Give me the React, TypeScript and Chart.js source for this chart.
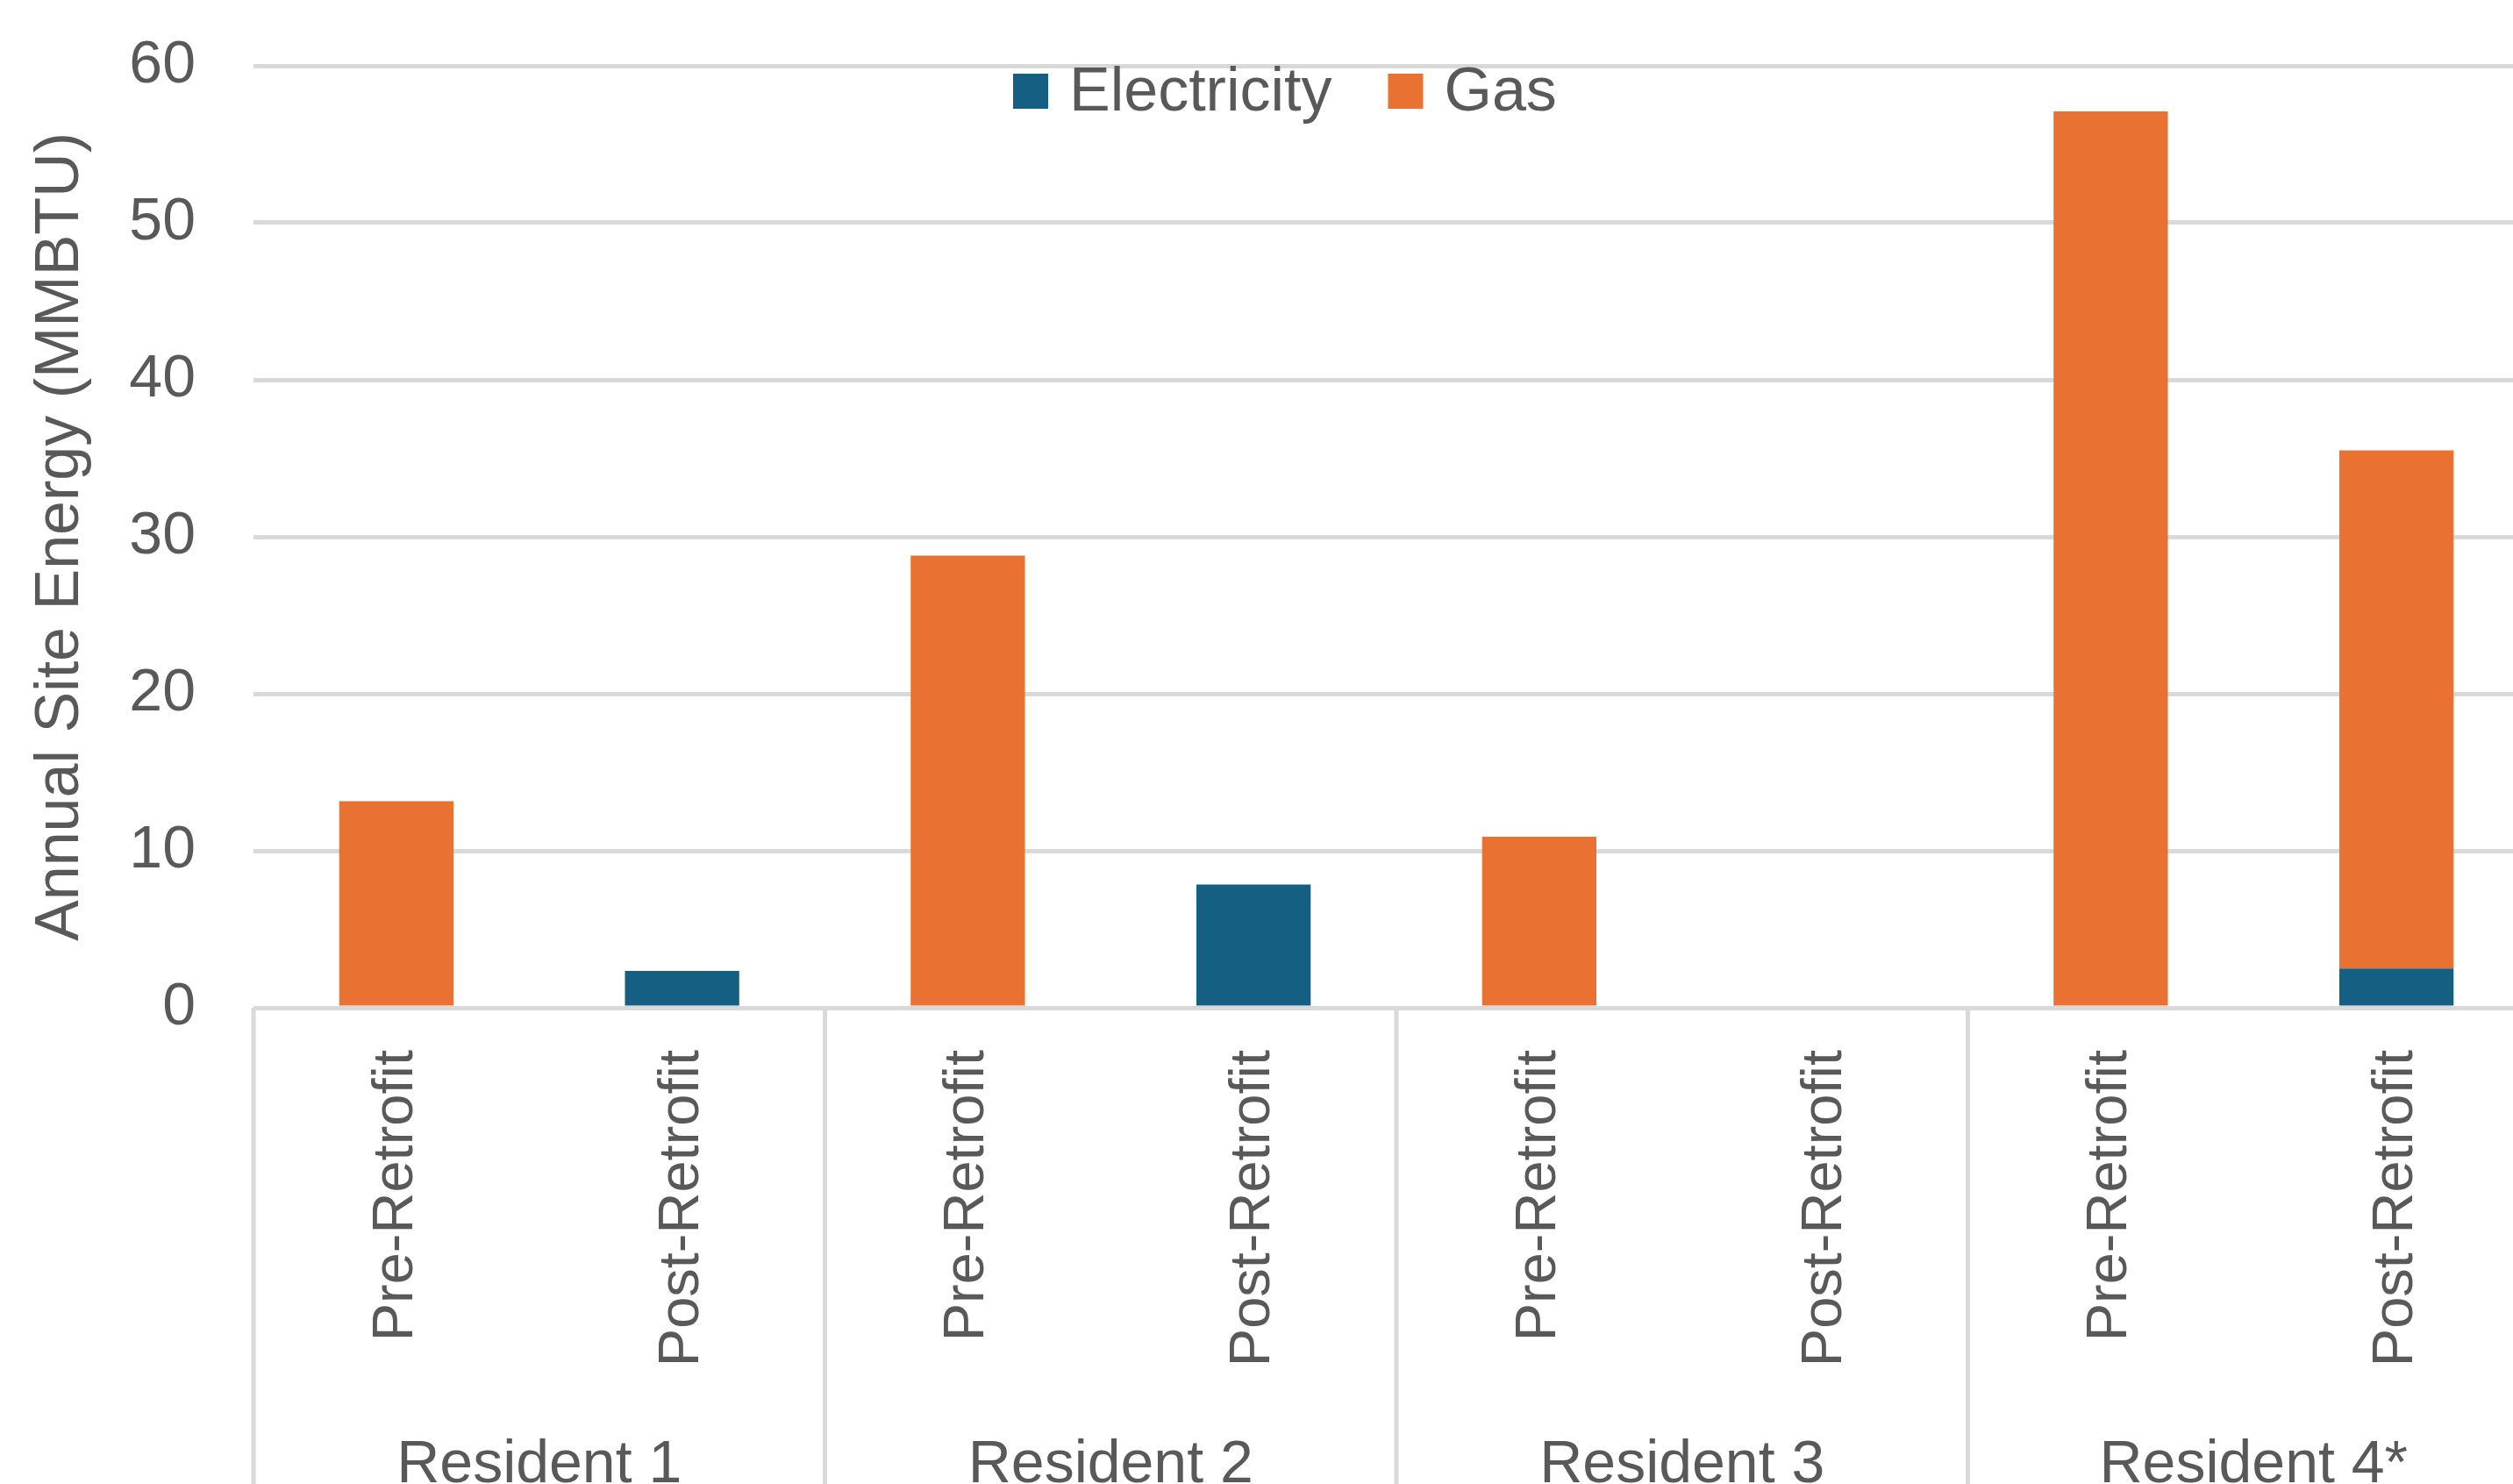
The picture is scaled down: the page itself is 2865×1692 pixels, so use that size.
import React, { useEffect, useRef } from "react";
import { Chart, registerables } from "chart.js";

Chart.register(...registerables);

const categories = [
  "Pre-Retrofit", "Post-Retrofit",
  "Pre-Retrofit", "Post-Retrofit",
  "Pre-Retrofit", "Post-Retrofit",
  "Pre-Retrofit", "Post-Retrofit",
];
const groups = ["Resident 1", "Resident 2", "Resident 3", "Resident 4*"];
const electricity = [0, 2.35, 0, 7.85, 0, 0, 0, 2.5];
const gas = [13.15, 0, 28.8, 0, 10.9, 0, 57.1, 33.0];
const seriesNames = ["Electricity", "Gas"];
const seriesColors = ["#156082", "#E97132"];
const yMin = 0;
const yMax = 60;
const yStep = 10;
const yTitle = "Annual Site Energy (MMBTU)";

const CANVAS_W = 2895;
const CANVAS_H = 1692;
const TEXT = "#595959";
const GRID = "#d9d9d9";
const FONT = "'Liberation Sans', Arial, sans-serif";

const groupPlugin = {
  id: "groupAxis",
  afterDraw(chart: any) {
    const { ctx } = chart;
    const xs = chart.scales.x;
    const ys = chart.scales.y;
    const y0 = ys.getPixelForValue(0);
    const step = xs.getPixelForValue(1) - xs.getPixelForValue(0);
    ctx.save();
    ctx.strokeStyle = GRID;
    ctx.lineWidth = 5;
    groups.forEach((g, gi) => {
      const first = gi * 2;
      const bx = xs.getPixelForValue(first) - step / 2;
      ctx.beginPath();
      ctx.moveTo(bx, y0);
      ctx.lineTo(bx, CANVAS_H);
      ctx.stroke();
    });
    ctx.fillStyle = TEXT;
    ctx.font = `68px ${FONT}`;
    ctx.textAlign = "center";
    ctx.textBaseline = "alphabetic";
    groups.forEach((g, gi) => {
      const cx = (xs.getPixelForValue(gi * 2) + xs.getPixelForValue(gi * 2 + 1)) / 2;
      ctx.fillText(g, cx, 1690);
    });
    ctx.restore();
  },
};

const legendPlugin = {
  id: "customLegend",
  afterDraw(chart: any) {
    const { ctx } = chart;
    ctx.save();
    ctx.font = `70px ${FONT}`;
    ctx.textBaseline = "middle";
    ctx.textAlign = "left";
    const cy = 104;
    const sq = 40;
    let x = 1155;
    seriesNames.forEach((name, i) => {
      ctx.fillStyle = seriesColors[i];
      ctx.fillRect(x, cy - sq / 2, sq, sq);
      ctx.fillStyle = TEXT;
      ctx.fillText(name, x + sq + 24, cy + 3);
      x += sq + 24 + ctx.measureText(name).width + 64;
    });
    ctx.restore();
  },
};

export default function App() {
  const canvasRef = useRef<HTMLCanvasElement | null>(null);

  useEffect(() => {
    if (!canvasRef.current) return;
    const chart = new Chart(canvasRef.current, {
      type: "bar",
      data: {
        labels: categories,
        datasets: [
          {
            label: seriesNames[0],
            data: electricity,
            backgroundColor: seriesColors[0],
            categoryPercentage: 1,
            barPercentage: 0.4,
          },
          {
            label: seriesNames[1],
            data: gas,
            backgroundColor: seriesColors[1],
            categoryPercentage: 1,
            barPercentage: 0.4,
          },
        ],
      },
      options: {
        animation: false,
        responsive: true,
        maintainAspectRatio: false,
        devicePixelRatio: 1,
        layout: { padding: { top: 75, left: 0, right: 0, bottom: 0 } },
        plugins: {
          legend: { display: false },
          tooltip: { enabled: false },
        },
        scales: {
          x: {
            stacked: true,
            grid: { display: false, drawTicks: false },
            border: { display: false },
            ticks: {
              autoSkip: false,
              maxRotation: 90,
              minRotation: 90,
              padding: 48,
              color: TEXT,
              font: { family: FONT, size: 65 },
            },
            afterFit: (axis: any) => {
              axis.height = CANVAS_H - 1149;
              axis.paddingTop = 0;
              axis.paddingBottom = 0;
              axis.paddingLeft = 0;
              axis.paddingRight = 0;
            },
          },
          y: {
            stacked: true,
            min: yMin,
            max: yMax,
            ticks: {
              stepSize: yStep,
              padding: 66,
              color: TEXT,
              font: { family: FONT, size: 68 },
            },
            grid: { color: GRID, lineWidth: 5, drawTicks: false },
            border: { display: false },
            title: {
              display: true,
              text: yTitle,
              color: TEXT,
              font: { family: FONT, size: 70 },
              padding: { top: 28, bottom: 0 },
            },
            afterFit: (axis: any) => {
              axis.width = 289;
              axis.paddingTop = 0;
              axis.paddingBottom = 0;
              axis.paddingLeft = 0;
              axis.paddingRight = 0;
            },
          },
        },
      },
      plugins: [groupPlugin, legendPlugin],
    });
    return () => chart.destroy();
  }, []);

  return (
    <div
      style={{
        position: "fixed",
        left: 0,
        top: 0,
        width: "100vw",
        height: "100vh",
        overflow: "hidden",
        background: "#ffffff",
      }}
    >
      <div style={{ position: "relative", width: CANVAS_W, height: CANVAS_H }}>
        <canvas ref={canvasRef} />
      </div>
    </div>
  );
}
